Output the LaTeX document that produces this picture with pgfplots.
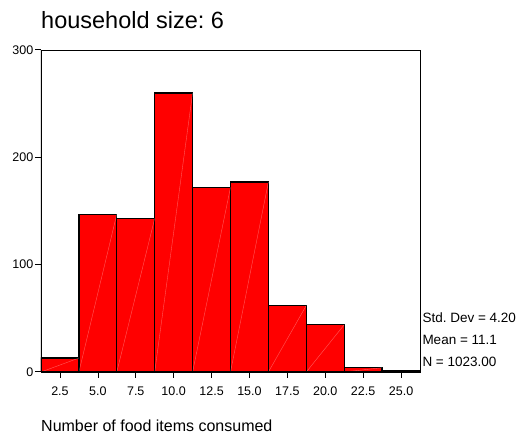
\documentclass[border=0pt]{standalone}
\usepackage{fontspec}
\setmainfont{Liberation Sans}
\usepackage{pgfplots}
\pgfplotsset{compat=1.18}
\definecolor{barred}{RGB}{255,0,0}
\frenchspacing
\begin{document}
\begin{tikzpicture}[x=1pt,y=1pt]
\useasboundingbox (-41,-64) rectangle (487,372);
\begin{axis}[
  at={(0,0)}, anchor=south west,
  scale only axis, width=379pt, height=322pt,
  xmin=1.25, xmax=26.25, ymin=0, ymax=300,
  xtick={2.5,5,7.5,10,12.5,15,17.5,20,22.5,25},
  xticklabels={2.5,5.0,7.5,10.0,12.5,15.0,17.5,20.0,22.5,25.0},
  ytick={0,100,200,300},
  ytick pos=left,
  xtick pos=bottom,
  axis line style={line width=0.8pt, black},
  tick align=outside,
  major tick length=6pt,
  xtick style={black, line width=0.6pt},
  ytick style={black, line width=1pt},
  yticklabel style={font=\fontsize{12.5}{14}\selectfont, inner sep=1.5pt},
  xticklabel style={font=\fontsize{12.5}{14}\selectfont, anchor=base, yshift=-18pt},
  /pgf/number format/assume math mode=true,
  unbounded coords=jump,
]
\addplot[ybar interval, fill=barred, draw=black, line width=1.3pt] coordinates {
  (1.25,13) (3.75,147) (6.25,143) (8.75,260) (11.25,172) (13.75,177)
  (16.25,62) (18.75,44) (21.25,4) (23.75,1) (26.25,1)};
\addplot[white, opacity=0.35, line width=0.4pt, mark=none] coordinates {
  (1.25,0) (3.75,13) (3.75,nan)
  (3.75,0) (6.25,147) (6.25,nan)
  (6.25,0) (8.75,143) (8.75,nan)
  (8.75,0) (11.25,260) (11.25,nan)
  (11.25,0) (13.75,172) (13.75,nan)
  (13.75,0) (16.25,177) (16.25,nan)
  (16.25,0) (18.75,62) (18.75,nan)
  (18.75,0) (21.25,44) (21.25,nan)
  (21.25,0) (23.75,4)};
\draw[line width=2pt, black] (rel axis cs:0,1) -- (rel axis cs:0,0) -- (rel axis cs:1,0);
\end{axis}
\node[anchor=base west, inner sep=0, font=\fontsize{23.5}{28}\selectfont] at (0,343) {household size: 6};
\node[anchor=base west, inner sep=0, font=\fontsize{16}{19}\selectfont] at (0,-59.7) {Number of food items consumed};
\node[anchor=base west, inner sep=0, font=\fontsize{13.5}{16}\selectfont] at (381.3,49.3) {Std. Dev = 4.20};
\node[anchor=base west, inner sep=0, font=\fontsize{13.5}{16}\selectfont] at (381.3,27) {Mean = 11.1};
\node[anchor=base west, inner sep=0, font=\fontsize{13.5}{16}\selectfont] at (381.3,5.3) {N = 1023.00};
\end{tikzpicture}
\end{document}
